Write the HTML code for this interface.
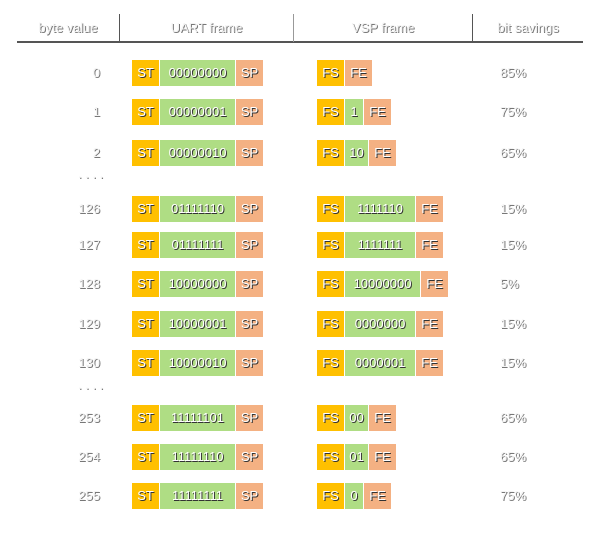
<!DOCTYPE html>
<html><head><meta charset="utf-8">
<style>
body{margin:0;background:#fff;width:597px;height:533px;position:relative;overflow:hidden;font-family:"Liberation Sans",sans-serif;}
.t{position:absolute;color:#f4f4f4;font-size:13px;text-shadow:1px 1px 0 #777;}
.b{position:absolute;height:26px;line-height:26px;text-align:center;font-size:13px;color:#fff;text-shadow:1px 1px 0 #333;box-sizing:border-box;}
.y{background:#ffc000}.g{background:#afdd84}.o{background:#f4b183}
.sep{position:absolute;background:#555;width:1px;top:14px;height:28px}
</style></head><body>
<div style="position:absolute;left:17px;top:41px;width:566px;height:2px;background:#555"></div>
<div class="sep" style="left:119px"></div>
<div class="sep" style="left:293px;background:#999"></div>
<div class="sep" style="left:472px"></div>
<div class="t" style="left:17px;width:102px;top:20px;text-align:center">byte value</div>
<div class="t" style="left:120px;width:173px;top:20px;text-align:center">UART frame</div>
<div class="t" style="left:294px;width:178px;top:20px;text-align:center">VSP frame</div>
<div class="t" style="left:473px;width:110px;top:20px;text-align:center">bit savings</div>
<script>
const bytes=["0","1","2","126","127","128","129","130","253","254","255"];
const uartBits=["00000000","00000001","00000010","01111110","01111111","10000000","10000001","10000010","11111101","11111110","11111111"];
const vspBits=["","1","10","1111110","1111111","10000000","0000000","0000001","00","01","0"];
const savings=["85%","75%","65%","15%","15%","5%","15%","15%","65%","65%","75%"];
const rowY=[73,112,153,209,245,284,324,363,418,457,496];
function mk(cls,txt,x,y,w,name){const d=document.createElement('div');d.className=cls;d.textContent=txt;d.style.left=x+'px';d.style.top=y+'px';if(w)d.style.width=w+'px';


document.body.appendChild(d);return d;}
function vw(n){return n==0?0:n==1?18:n==2?23:5*n+35;}
bytes.forEach((b,i)=>{
 const y=rowY[i],top=y-13;
 const l=mk('t',b,40,y-8,60,'byte-value');l.style.textAlign='right';
 mk('b y','ST',132,top,27,'uart-start-bit');
 mk('b g',uartBits[i],160,top,75,'uart-data-bits');
 mk('b o','SP',236,top,27,'uart-stop-bit');
 mk('b y','FS',317,top,27,'vsp-frame-start');
 const w=vw(vspBits[i].length);let x=345;
 if(w){mk('b g',vspBits[i],345,top,w,'vsp-data-bits');x=345+w+1;}
 mk('b o','FE',x,top,27,'vsp-frame-end');
 mk('t',savings[i],500,y-8,0,'bit-savings');
});
[178,389].forEach(y=>{mk('t','. . . .',78,y-12,0,'ellipsis-row');});
</script>
</body></html>
